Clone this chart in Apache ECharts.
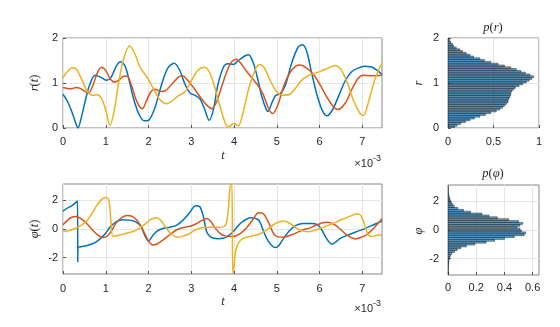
<!DOCTYPE html>
<html><head><meta charset="utf-8">
<script src="https://cdn.jsdelivr.net/npm/echarts@6/dist/echarts.min.js"></script>
<style>html,body{margin:0;padding:0;background:#fff}#c{width:560px;height:327px}</style>
</head><body><div id="c"></div>
<script>
// ---- tick labels ----
const tTicks = [0, 1, 2, 3, 4, 5, 6, 7];
const rTicks = [0, 1, 2];
const phiTicks = [-2, 0, 2];
const prTicks = [0, 0.5, 1];
const pphiTicks = [0, 0.2, 0.4, 0.6];

// ---- r(t) series: [t (x1e-3), r] ----
const rBlue = [[0,0.75],[0.1,0.6],[0.2,0.38],[0.3,0.1],[0.35,0.0],[0.42,0.2],[0.52,0.6],[0.62,0.95],[0.75,1.17],[0.9,1.12],[1.02,1.06],[1.12,1.12],[1.25,1.38],[1.35,1.47],[1.45,1.38],[1.55,1.05],[1.65,0.65],[1.78,0.3],[1.9,0.16],[2.0,0.17],[2.15,0.45],[2.3,0.95],[2.45,1.33],[2.6,1.44],[2.72,1.3],[2.85,0.98],[2.97,0.78],[3.1,0.72],[3.2,0.65],[3.3,0.45],[3.42,0.17],[3.52,0.42],[3.62,0.95],[3.75,1.35],[3.85,1.43],[3.98,1.41],[4.1,1.5],[4.25,1.6],[4.34,1.63],[4.45,1.45],[4.55,1.1],[4.65,0.7],[4.75,0.42],[4.8,0.37],[4.88,0.55],[4.97,0.72],[5.08,0.76],[5.2,0.95],[5.35,1.45],[5.5,1.8],[5.6,1.85],[5.7,1.7],[5.82,1.2],[5.95,0.7],[6.07,0.38],[6.17,0.27],[6.3,0.4],[6.45,0.72],[6.6,1.05],[6.75,1.25],[6.9,1.33],[7.05,1.37],[7.2,1.36],[7.35,1.28],[7.46,1.19]];
const rOrange = [[0,0.9],[0.1,0.88],[0.2,0.87],[0.3,0.9],[0.4,0.88],[0.5,0.82],[0.6,0.78],[0.7,0.95],[0.8,1.22],[0.9,1.35],[1.0,1.28],[1.1,1.1],[1.2,1.02],[1.3,1.06],[1.42,1.15],[1.5,1.15],[1.6,0.95],[1.7,0.65],[1.8,0.46],[1.86,0.43],[1.95,0.6],[2.05,0.8],[2.15,0.86],[2.3,0.81],[2.4,0.83],[2.55,0.98],[2.7,1.13],[2.8,1.16],[2.9,1.08],[3.05,0.9],[3.2,0.7],[3.35,0.52],[3.48,0.43],[3.6,0.6],[3.72,0.95],[3.85,1.3],[3.95,1.48],[4.05,1.53],[4.15,1.45],[4.3,1.25],[4.45,1.08],[4.57,0.93],[4.68,0.75],[4.8,0.45],[4.9,0.32],[5.02,0.5],[5.15,0.9],[5.3,1.22],[5.45,1.38],[5.55,1.4],[5.7,1.33],[5.85,1.2],[6.0,0.98],[6.15,0.72],[6.3,0.5],[6.42,0.41],[6.6,0.55],[6.75,0.85],[6.9,1.1],[7.02,1.17],[7.2,1.16],[7.46,1.17]];
const rYellow = [[0,1.12],[0.1,1.25],[0.22,1.34],[0.32,1.3],[0.45,1.05],[0.58,0.8],[0.68,0.73],[0.8,0.74],[0.9,0.66],[1.0,0.4],[1.1,0.06],[1.2,0.4],[1.3,1.0],[1.42,1.55],[1.56,1.82],[1.68,1.65],[1.8,1.35],[1.95,1.15],[2.1,0.9],[2.25,0.65],[2.42,0.54],[2.55,0.6],[2.7,0.72],[2.85,0.8],[3.0,1.05],[3.15,1.28],[3.3,1.35],[3.42,1.25],[3.55,0.9],[3.68,0.45],[3.8,0.1],[3.87,0.02],[3.95,0.08],[4.0,0.1],[4.1,0.05],[4.2,0.3],[4.35,0.9],[4.5,1.3],[4.6,1.41],[4.7,1.35],[4.85,1.05],[5.0,0.8],[5.15,0.73],[5.3,0.75],[5.45,0.9],[5.6,1.08],[5.75,1.17],[5.9,1.22],[6.05,1.27],[6.2,1.33],[6.35,1.39],[6.5,1.3],[6.65,1.0],[6.8,0.6],[6.95,0.32],[7.03,0.28],[7.15,0.6],[7.3,1.1],[7.46,1.45]];

// ---- phi(t) series: [t (x1e-3), phi] ----
const phiBlue = [[0,1.25],[0.1,1.45],[0.2,1.62],[0.3,1.85],[0.34,1.96],[0.345,-2.3],[0.35,-1.3],[0.45,-1.22],[0.6,-1.12],[0.75,-0.95],[0.9,-0.6],[1.0,-0.28],[1.12,0.2],[1.25,0.52],[1.4,0.65],[1.55,0.62],[1.7,0.5],[1.82,0.2],[1.92,-0.5],[2.0,-0.83],[2.1,-0.45],[2.2,-0.15],[2.35,0.05],[2.5,0.12],[2.65,0.25],[2.8,0.6],[2.95,1.1],[3.1,1.62],[3.2,1.55],[3.28,0.9],[3.36,-0.2],[3.45,-0.55],[3.6,-0.68],[3.75,-0.65],[3.9,-0.4],[4.02,-0.05],[4.15,0.4],[4.3,0.7],[4.4,0.78],[4.55,0.68],[4.62,0.4],[4.69,-0.17],[4.8,-0.85],[4.9,-1.2],[4.97,-1.3],[5.05,-1.15],[5.16,-0.65],[5.3,-0.1],[5.45,0.25],[5.62,0.38],[5.8,0.38],[5.95,0.3],[6.05,-0.05],[6.15,-0.6],[6.25,-1.0],[6.3,-1.06],[6.4,-0.85],[6.5,-0.62],[6.7,-0.38],[6.9,-0.15],[7.1,0.08],[7.3,0.35],[7.46,0.55]];
const phiOrange = [[0,0.3],[0.1,0.6],[0.2,0.82],[0.31,0.88],[0.42,0.72],[0.55,0.4],[0.7,-0.1],[0.85,-0.5],[0.94,-0.6],[1.05,-0.45],[1.15,-0.05],[1.25,0.45],[1.38,0.82],[1.5,0.95],[1.62,0.88],[1.72,0.65],[1.8,0.3],[1.9,-0.25],[2.0,-0.85],[2.1,-1.12],[2.2,-1.05],[2.34,-0.76],[2.5,-0.4],[2.66,-0.05],[2.82,0.1],[2.97,0.19],[3.1,0.35],[3.22,0.55],[3.36,0.73],[3.45,0.55],[3.55,0.1],[3.67,-0.3],[3.8,-0.48],[3.98,-0.52],[4.15,-0.3],[4.3,0.1],[4.45,0.7],[4.57,1.14],[4.68,1.08],[4.8,0.5],[4.92,-0.3],[5.02,-0.55],[5.16,-0.58],[5.3,-0.45],[5.47,-0.25],[5.62,-0.05],[5.78,0.08],[5.95,0.3],[6.1,0.45],[6.2,0.47],[6.35,0.3],[6.48,0.0],[6.65,-0.45],[6.84,-0.69],[7.0,-0.55],[7.1,-0.4],[7.25,0.0],[7.46,0.71]];
const phiYellow = [[0,-0.17],[0.15,-0.1],[0.31,0.07],[0.45,0.3],[0.55,0.54],[0.68,1.1],[0.78,1.6],[0.9,2.05],[1.0,2.2],[1.07,2.05],[1.12,0.6],[1.17,-0.52],[1.33,-0.42],[1.5,-0.28],[1.64,-0.17],[1.78,0.05],[1.9,0.3],[2.05,0.65],[2.19,0.78],[2.3,0.55],[2.42,0.05],[2.55,-0.4],[2.7,-0.57],[2.85,-0.45],[2.97,-0.3],[3.1,-0.05],[3.28,0.1],[3.45,0.12],[3.6,0.12],[3.75,0.15],[3.82,0.4],[3.87,1.5],[3.92,3.14],[3.95,3.14],[3.97,-3.14],[4.0,-2.6],[4.04,-1.5],[4.12,-0.9],[4.22,-0.64],[4.4,-0.5],[4.6,-0.35],[4.77,-0.05],[4.95,0.35],[5.16,0.55],[5.3,0.4],[5.47,0.05],[5.62,-0.15],[5.75,-0.2],[5.9,-0.08],[6.05,0.08],[6.2,0.25],[6.4,0.5],[6.55,0.7],[6.72,0.9],[6.85,1.05],[6.92,1.05],[7.02,0.6],[7.12,-0.3],[7.2,-0.52],[7.32,-0.45],[7.46,-0.4]];

// ---- histogram p(r): bin edges and densities ----
const rBinEdges = [0,0.04,0.08,0.12,0.16,0.2,0.24,0.28,0.32,0.36,0.4,0.44,0.48,0.52,0.56,0.6,0.64,0.68,0.72,0.76,0.8,0.84,0.88,0.92,0.96,1.0,1.04,1.08,1.12,1.16,1.2,1.24,1.28,1.32,1.36,1.4,1.44,1.48,1.52,1.56,1.6,1.64,1.68,1.72,1.76,1.8,1.84,1.88,1.92,1.96,2.0];
const pR = [0.07,0.10,0.14,0.19,0.24,0.29,0.35,0.41,0.47,0.53,0.57,0.60,0.62,0.64,0.66,0.66,0.67,0.68,0.69,0.69,0.70,0.72,0.74,0.78,0.82,0.86,0.89,0.92,0.94,0.90,0.85,0.80,0.75,0.69,0.62,0.55,0.47,0.40,0.35,0.28,0.24,0.20,0.16,0.13,0.09,0.06,0.05,0.03,0.02,0.01];

// ---- histogram p(phi): bin edges and densities ----
const phiBinEdges = [-3.1416,-3.0107,-2.8798,-2.7489,-2.6180,-2.4871,-2.3562,-2.2253,-2.0944,-1.9635,-1.8326,-1.7017,-1.5708,-1.4399,-1.3090,-1.1781,-1.0472,-0.9163,-0.7854,-0.6545,-0.5236,-0.3927,-0.2618,-0.1309,0,0.1309,0.2618,0.3927,0.5236,0.6545,0.7854,0.9163,1.0472,1.1781,1.3090,1.4399,1.5708,1.7017,1.8326,1.9635,2.0944,2.2253,2.3562,2.4871,2.6180,2.7489,2.8798,3.0107,3.1416];
const pPhi = [0.002,0.002,0.002,0.003,0.003,0.004,0.005,0.006,0.008,0.012,0.018,0.026,0.045,0.065,0.09,0.13,0.19,0.27,0.33,0.40,0.47,0.54,0.55,0.52,0.51,0.49,0.51,0.53,0.50,0.43,0.35,0.29,0.24,0.16,0.11,0.07,0.045,0.035,0.025,0.018,0.013,0.009,0.006,0.004,0.003,0.002,0.002,0.001];

const histR = pR.map((p, i) => [rBinEdges[i], rBinEdges[i + 1], p]);
const histPhi = pPhi.map((p, i) => [phiBinEdges[i], phiBinEdges[i + 1], p]);

const C = { blue: '#0072BD', orange: '#D95319', yellow: '#EDB120' };
const FONT = 'Liberation Sans';
const TXT = '#262626';
const GRIDC = '#e6e6e6';
const BOX = '#858585';

function vAxis(o) {
  return Object.assign({
    type: 'value',
    axisLine: { show: false, onZero: false },
    axisTick: { show: true, inside: true, length: 3, lineStyle: { color: '#555', width: 1 }, customValues: o.ticks },
    axisLabel: { customValues: o.ticks, fontFamily: FONT, fontSize: 11, color: TXT, margin: o.margin },
    splitLine: { show: true, lineStyle: { color: GRIDC, width: 1 } }
  }, o.extra);
}

function gridBox(left, top, width, height) {
  return { left, top, width, height, show: true, borderColor: BOX, borderWidth: 1, backgroundColor: 'transparent' };
}

function lineSeries(data, color, xi, yi) {
  return { type: 'line', data, xAxisIndex: xi, yAxisIndex: yi, showSymbol: false, symbol: 'none',
    smooth: 0.3, lineStyle: { color, width: 1.5 }, itemStyle: { color }, clip: true, animation: false };
}

function histSeries(data, xi, yi) {
  return {
    type: 'custom', xAxisIndex: xi, yAxisIndex: yi, data, animation: false, clip: true,
    encode: { x: 2, y: [0, 1] },
    renderItem: function (params, api) {
      const lo = api.value(0), hi = api.value(1), p = api.value(2);
      const a = api.coord([0, hi]);
      const b = api.coord([p, lo]);
      return { type: 'rect', shape: { x: a[0], y: a[1], width: b[0] - a[0], height: b[1] - a[1] },
        style: { fill: 'rgba(0,114,189,0.62)', stroke: '#1e1e1e', lineWidth: 0.5 } };
    }
  };
}

function mathText(x, y, text, rot, align) {
  return { type: 'text', x, y, rotation: rot || 0, silent: true,
    style: { text, fontFamily: 'Liberation Serif', fontSize: 12.5, fill: TXT,
      align: align || 'center', verticalAlign: 'middle',
      rich: { i: { fontStyle: 'italic', fontFamily: 'Liberation Serif', fontSize: 12.5, fill: TXT },
              u: { fontFamily: 'Liberation Serif', fontSize: 12.5, fill: TXT } } } };
}

function expText(xRight, y) {
  return [
    { type: 'text', x: xRight - 9, y: y, silent: true,
      style: { text: '×10', fontFamily: FONT, fontSize: 11, fill: TXT, align: 'right', verticalAlign: 'middle' } },
    { type: 'text', x: xRight - 9, y: y - 5, silent: true,
      style: { text: '-3', fontFamily: FONT, fontSize: 9, fill: TXT, align: 'left', verticalAlign: 'middle' } }
  ];
}

const chart = echarts.init(document.getElementById('c'), null, { renderer: 'canvas' });
chart.setOption({
  animation: false,
  backgroundColor: '#fff',
  grid: [
    gridBox(63, 38, 319, 90),
    gridBox(63, 184, 319, 90),
    gridBox(448, 38, 91, 90),
    gridBox(448, 185, 91, 90)
  ],
  xAxis: [
    vAxis({ ticks: tTicks, margin: 8, extra: { gridIndex: 0, min: 0, max: 7.46 } }),
    vAxis({ ticks: tTicks, margin: 9, extra: { gridIndex: 1, min: 0, max: 7.46 } }),
    vAxis({ ticks: prTicks, margin: 8, extra: { gridIndex: 2, min: 0, max: 1 } }),
    vAxis({ ticks: pphiTicks, margin: 7, extra: { gridIndex: 3, min: 0, max: 0.645 } })
  ],
  yAxis: [
    vAxis({ ticks: rTicks, margin: 5, extra: { gridIndex: 0, min: 0, max: 2 } }),
    vAxis({ ticks: phiTicks, margin: 5, extra: { gridIndex: 1, min: -Math.PI, max: Math.PI } }),
    vAxis({ ticks: rTicks, margin: 9, extra: { gridIndex: 2, min: 0, max: 2 } }),
    vAxis({ ticks: phiTicks, margin: 9, extra: { gridIndex: 3, min: -Math.PI, max: Math.PI } })
  ],
  series: [
    lineSeries(rBlue, C.blue, 0, 0),
    lineSeries(rOrange, C.orange, 0, 0),
    lineSeries(rYellow, C.yellow, 0, 0),
    lineSeries(phiBlue, C.blue, 1, 1),
    lineSeries(phiOrange, C.orange, 1, 1),
    lineSeries(phiYellow, C.yellow, 1, 1),
    histSeries(histR, 2, 2),
    histSeries(histPhi, 3, 3)
  ],
  graphic: [
    mathText(35, 83, '{i|r}{u|(}{i|t}{u|)}', Math.PI / 2),
    mathText(35, 229, '{i|φ}{u|(}{i|t}{u|)}', Math.PI / 2),
    mathText(223, 156, '{i|t}'),
    mathText(223, 302, '{i|t}'),
    mathText(493, 28, '{i|p}{u|(}{i|r}{u|)}'),
    mathText(493, 174, '{i|p}{u|(}{i|φ}{u|)}'),
    mathText(419, 83, '{i|r}', Math.PI / 2),
    mathText(419, 231, '{i|φ}', Math.PI / 2)
  ].concat(expText(382, 164), expText(382, 309))
});
</script>
</body></html>
